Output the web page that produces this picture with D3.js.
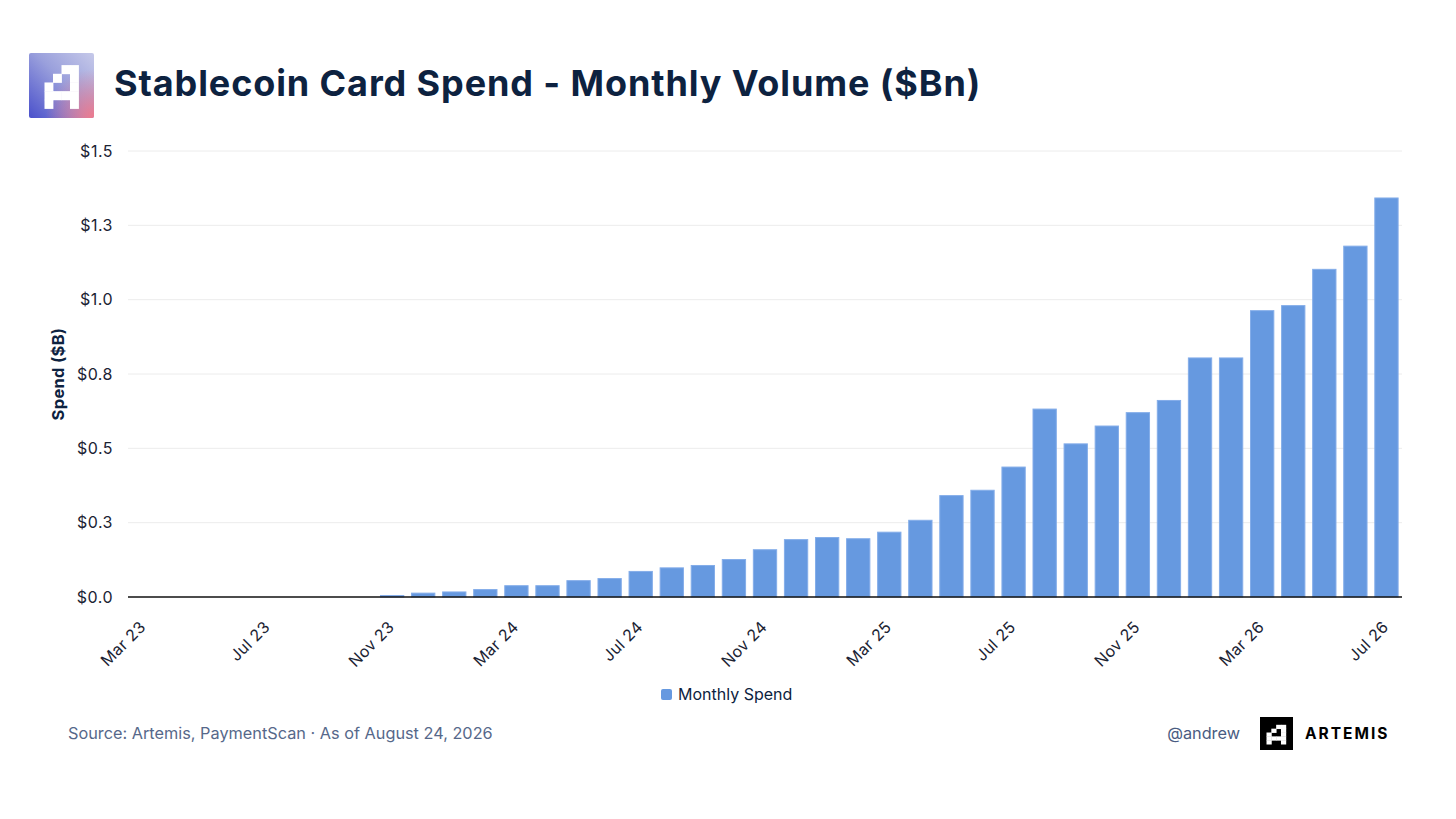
<!DOCTYPE html>
<html>
<head>
<meta charset="utf-8">
<script src="https://cdn.jsdelivr.net/npm/d3@7"></script>
<style>
  html, body { margin: 0; padding: 0; background: #ffffff; }
  svg { display: block; font-family: Inter, "Noto Sans", sans-serif; }
</style>
</head>
<body>
<svg id="chart" width="1456" height="819"></svg>
<script>
// ---------------- DATA ----------------
const months = [
  "Mar 23","Apr 23","May 23","Jun 23","Jul 23","Aug 23","Sep 23","Oct 23","Nov 23","Dec 23",
  "Jan 24","Feb 24","Mar 24","Apr 24","May 24","Jun 24","Jul 24","Aug 24","Sep 24","Oct 24","Nov 24","Dec 24",
  "Jan 25","Feb 25","Mar 25","Apr 25","May 25","Jun 25","Jul 25","Aug 25","Sep 25","Oct 25","Nov 25","Dec 25",
  "Jan 26","Feb 26","Mar 26","Apr 26","May 26","Jun 26","Jul 26"
];
const monthlySpend = [
  0, 0, 0, 0, 0, 0, 0, 0, 0.005, 0.013,
  0.017, 0.025, 0.038, 0.038, 0.055, 0.062, 0.086, 0.098, 0.106, 0.126, 0.159, 0.193,
  0.200, 0.196, 0.218, 0.258, 0.341, 0.359, 0.437, 0.632, 0.515, 0.575, 0.620, 0.661,
  0.804, 0.804, 0.963, 0.980, 1.102, 1.180, 1.342
];
const xTickLabels = ["Mar 23","Jul 23","Nov 23","Mar 24","Jul 24","Nov 24","Mar 25","Jul 25","Nov 25","Mar 26","Jul 26"];
const yTickValues = [0, 0.25, 0.5, 0.75, 1.0, 1.25, 1.5];
const seriesName = "Monthly Spend";
const titleText = "Stablecoin Card Spend - Monthly Volume ($Bn)";
const yAxisTitle = "Spend ($B)";
const sourceText = "Source: Artemis, PaymentScan \u00b7 As of August 24, 2026";
const handleText = "@andrew";
const brandText = "ARTEMIS";

// ---------------- LAYOUT ----------------
const svg = d3.select("#chart");
const plot = { left: 128, right: 1402, top: 151, bottom: 597 };
const barColor = "#6699e0";
const barStroke = "#84ade9";
const textDark = "#0d2240";

const defs = svg.append("defs");
const lg = defs.append("linearGradient").attr("id", "logoGrad")
  .attr("x1", "1").attr("y1", "0").attr("x2", "0").attr("y2", "1");
lg.append("stop").attr("offset", "0").attr("stop-color", "#c6c9e9");
lg.append("stop").attr("offset", "0.45").attr("stop-color", "#9aa0dc");
lg.append("stop").attr("offset", "1").attr("stop-color", "#4a50cb");
const rg = defs.append("radialGradient").attr("id", "logoPink")
  .attr("cx", "1").attr("cy", "1").attr("r", "0.75");
rg.append("stop").attr("offset", "0").attr("stop-color", "#ef7a8c").attr("stop-opacity", 1);
rg.append("stop").attr("offset", "1").attr("stop-color", "#ef7a8c").attr("stop-opacity", 0);

// pixel "A" glyph (4 cols x 5 rows)
const glyph = [
  [0,0,1,1],
  [0,1,0,1],
  [1,0,0,1],
  [1,1,1,1],
  [1,0,0,1]
];
function drawGlyph(g, x0, y0, w, h, color) {
  const cw = w / 4, ch = h / 5;
  glyph.forEach((row, r) => row.forEach((v, c) => {
    if (v) g.append("rect").attr("x", x0 + c * cw - 0.2).attr("y", y0 + r * ch - 0.2)
      .attr("width", cw + 0.4).attr("height", ch + 0.4).attr("fill", color);
  }));
}

// Top-left logo
const logo = svg.append("g");
logo.append("rect").attr("x", 29).attr("y", 53).attr("width", 65).attr("height", 65)
  .attr("rx", 2).attr("fill", "url(#logoGrad)");
logo.append("rect").attr("x", 29).attr("y", 53).attr("width", 65).attr("height", 65)
  .attr("rx", 2).attr("fill", "url(#logoPink)");
drawGlyph(logo, 44.7, 65.3, 34, 43.4, "#ffffff");

// Title
svg.append("text").attr("x", 114).attr("y", 96)
  .attr("font-size", 36).attr("font-weight", 700).attr("fill", textDark)
  .attr("letter-spacing", "0.9")
  .text(titleText);

// Scales
const x = d3.scaleBand().domain(months).range([plot.left, plot.right])
  .paddingInner(0.25).paddingOuter(0.125);
const y = d3.scaleLinear().domain([0, 1.5]).range([plot.bottom, plot.top]);

// Gridlines
svg.append("g").selectAll("line").data(yTickValues.filter(d => d > 0)).join("line")
  .attr("x1", plot.left).attr("x2", plot.right)
  .attr("y1", d => y(d)).attr("y2", d => y(d))
  .attr("stroke", "#ececec").attr("stroke-width", 1);

// Y axis
const yAxis = svg.append("g").attr("transform", `translate(${plot.left},0)`)
  .call(d3.axisLeft(y).tickValues(yTickValues).tickSize(0).tickPadding(15)
    .tickFormat(d => "$" + d3.format(".1f")(d + 1e-9)));
yAxis.select(".domain").remove();
yAxis.selectAll("text").attr("font-size", 16).attr("fill", "#1b2333")
  .attr("letter-spacing", "0.5")
  .attr("font-family", "Inter, sans-serif");

svg.append("text")
  .attr("transform", `translate(64,${(plot.top + plot.bottom) / 2}) rotate(-90)`)
  .attr("text-anchor", "middle").attr("font-size", 16.5).attr("font-weight", 700)
  .attr("letter-spacing", "0.3")
  .attr("fill", textDark).text(yAxisTitle);

// Bars
svg.append("g").selectAll("rect").data(months.map((m, i) => ({ m, v: monthlySpend[i] })).filter(d => d.v > 0))
  .join("rect")
  .attr("x", d => x(d.m))
  .attr("y", d => y(d.v))
  .attr("width", x.bandwidth())
  .attr("height", d => y(0) - y(d.v))
  .attr("fill", barColor)
  .attr("stroke", barStroke).attr("stroke-width", 1);

// X axis
const xAxis = svg.append("g").attr("transform", `translate(0,${plot.bottom})`)
  .call(d3.axisBottom(x).tickValues(xTickLabels).tickSize(0).tickPadding(0));
xAxis.select(".domain").attr("stroke", "#111111").attr("stroke-width", 1.5)
  .attr("d", `M${plot.left},0H${plot.right}`);
xAxis.selectAll(".tick text")
  .attr("font-size", 16).attr("fill", "#1b2333").attr("font-family", "Inter, sans-serif")
  .attr("letter-spacing", "0.3")
  .attr("text-anchor", "end")
  .attr("dy", null).attr("y", 0)
  .attr("transform", "translate(0,28) rotate(-45)")
  .attr("dominant-baseline", "middle");

// Legend
const legend = svg.append("g");
legend.append("rect").attr("x", 661).attr("y", 689).attr("width", 11).attr("height", 11)
  .attr("rx", 2).attr("fill", barColor);
legend.append("text").attr("x", 678).attr("y", 700).attr("font-size", 16)
  .attr("fill", textDark).text(seriesName);

// Footer
svg.append("text").attr("x", 68).attr("y", 739).attr("font-size", 16.3)
  .attr("fill", "#56688a").text(sourceText);
svg.append("text").attr("x", 1240).attr("y", 739).attr("text-anchor", "end")
  .attr("font-size", 16.3).attr("fill", "#4a5c82").text(handleText);

const brand = svg.append("g");
brand.append("rect").attr("x", 1260).attr("y", 717).attr("width", 33).attr("height", 33).attr("fill", "#000000");
drawGlyph(brand, 1266.7, 725, 19.3, 19.3, "#ffffff");
brand.append("text").attr("x", 1305).attr("y", 739).attr("font-size", 15.5).attr("font-weight", 700)
  .attr("letter-spacing", "2").attr("fill", "#000000").text(brandText);
</script>
</body>
</html>
